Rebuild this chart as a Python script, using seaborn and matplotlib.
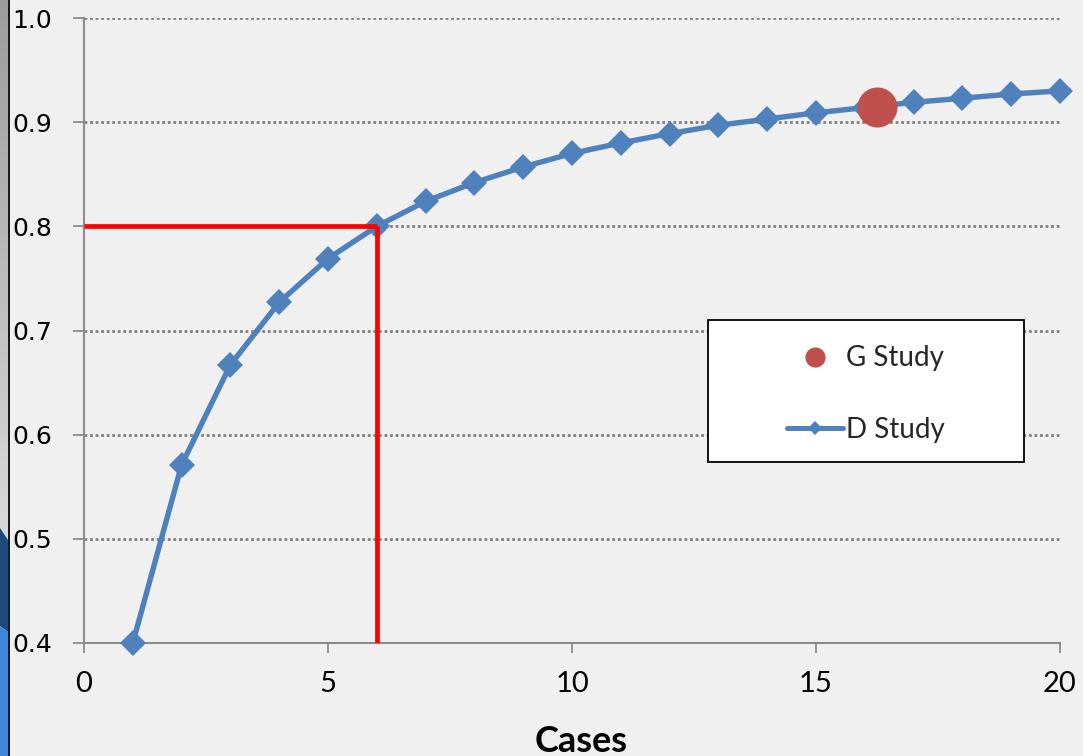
import numpy as np
import pandas as pd
import matplotlib
matplotlib.use("Agg")
import matplotlib.pyplot as plt
from matplotlib.lines import Line2D
from matplotlib.patches import Rectangle, Polygon
import seaborn as sns

# Reliability of the mean score as the number of cases grows
cases = [1, 2, 3, 4, 5, 6, 7, 8, 9, 10, 11, 12, 13, 14, 15, 16, 17, 18, 19, 20]
d_study = [0.400, 0.571, 0.667, 0.727, 0.769, 0.800, 0.824, 0.842, 0.857, 0.870,
           0.880, 0.889, 0.897, 0.903, 0.909, 0.914, 0.919, 0.923, 0.927, 0.930]

# Observed design
g_cases = [16.25]
g_study = [0.915]

# Target reliability and the cases needed to reach it
target_rel = 0.8
target_cases = 6

x_ticks = [0, 5, 10, 15, 20]
y_ticks = [0.4, 0.5, 0.6, 0.7, 0.8, 0.9, 1.0]

BLUE = "#4F81BD"
RED_DOT = "#C0504D"
BG = "#F0F0F0"

sns.set_theme(style="white")
plt.rcParams["font.family"] = ["DejaVu Sans"]

W, H = 1083, 756
fig = plt.figure(figsize=(W / 100, H / 100), dpi=100, facecolor=BG)

# Slide edge decoration on the far left
strip = fig.add_axes([0, 0, 10 / W, 1])
strip.set_xlim(0, 10)
strip.set_ylim(H, 0)
strip.axis("off")
grad = np.linspace(0, 1, 256).reshape(-1, 1)
strip.imshow(grad, extent=[0, 8, 540, 0], aspect="auto",
             cmap=matplotlib.colors.LinearSegmentedColormap.from_list("g", ["#9C9C9C", "#DADADA"]),
             zorder=1)
strip.add_patch(Polygon([[0, 528], [8, 540], [8, 632], [0, 626]], closed=True,
                        facecolor="#1F497D", edgecolor="none", zorder=2))
strip.add_patch(Polygon([[0, 626], [8, 632], [8, H], [0, H]], closed=True,
                        facecolor="#3F85D9", edgecolor="none", zorder=2))
strip.add_patch(Rectangle((8, 0), 2, H, facecolor="#1A1A1A", edgecolor="none", zorder=3))

ax = fig.add_axes([84 / W, 1 - 643 / H, (1060 - 84) / W, (643 - 18) / H])
ax.set_facecolor(BG)

df = pd.DataFrame({"Cases": cases, "Reliability": d_study})
sns.lineplot(data=df, x="Cases", y="Reliability", ax=ax, color=BLUE, linewidth=3.9,
             marker="D", markersize=13, markeredgewidth=0, zorder=3, clip_on=False)

gdf = pd.DataFrame({"Cases": g_cases, "Reliability": g_study})
sns.scatterplot(data=gdf, x="Cases", y="Reliability", ax=ax, color=RED_DOT, s=830,
                linewidth=0, zorder=4)

# Reference lines for the target reliability
ax.plot([0, target_cases], [target_rel, target_rel], color="#FF0000", linewidth=3.4,
        solid_capstyle="butt", zorder=5)
ax.plot([target_cases, target_cases], [target_rel, y_ticks[0]], color="#FF0000",
        linewidth=3.4, solid_capstyle="butt", zorder=5)

ax.set_xlim(0, 20)
ax.set_ylim(0.4, 1.0)
ax.set_xticks(x_ticks)
ax.set_yticks(y_ticks)
ax.set_yticklabels([f"{v:.1f}" for v in y_ticks], fontsize=18, color="black")
ax.set_xticklabels([str(v) for v in x_ticks], fontsize=21, family="Lato", color="black")
ax.set_ylabel("")
ax.set_xlabel("Cases", fontsize=26, family="Lato", fontweight="bold", labelpad=20,
              color="black")
ax.xaxis.label.set_x(0.509)
ax.tick_params(axis="y", direction="out", length=8, width=1.3, color="#8C8C8C", pad=15,
               left=True)
ax.tick_params(axis="x", direction="out", length=7, width=1.3, color="#8C8C8C", pad=13,
               bottom=True)

for side in ["top", "right"]:
    ax.spines[side].set_visible(False)
for side in ["left", "bottom"]:
    ax.spines[side].set_color("#8C8C8C")
    ax.spines[side].set_linewidth(1.5)

ax.yaxis.grid(True, color="#7F7F7F", linestyle=(0, (1, 1)), linewidth=2.0, zorder=1)
ax.xaxis.grid(False)
ax.set_axisbelow(True)

# Legend box
box = Rectangle((0.639, 0.29), 0.324, 0.227, transform=ax.transAxes,
                facecolor="white", edgecolor="black", linewidth=1.3, zorder=6)
ax.add_patch(box)
handles = [
    Line2D([], [], linestyle="none", marker="o", color=RED_DOT, markersize=14.5,
           markeredgewidth=0),
    Line2D([], [], color=BLUE, linewidth=3.6, marker="D", markersize=7.5,
           markeredgewidth=0),
]
leg = ax.legend(handles, ["G Study", "D Study"], loc="center",
                bbox_to_anchor=(0.639 + 0.162, 0.29 + 0.108), frameon=False,
                prop={"family": "Lato", "size": 20}, handlelength=2.0,
                handletextpad=0.1, labelspacing=1.65)
leg.set_zorder(7)

fig.savefig("out.png", dpi=100, facecolor=BG)
